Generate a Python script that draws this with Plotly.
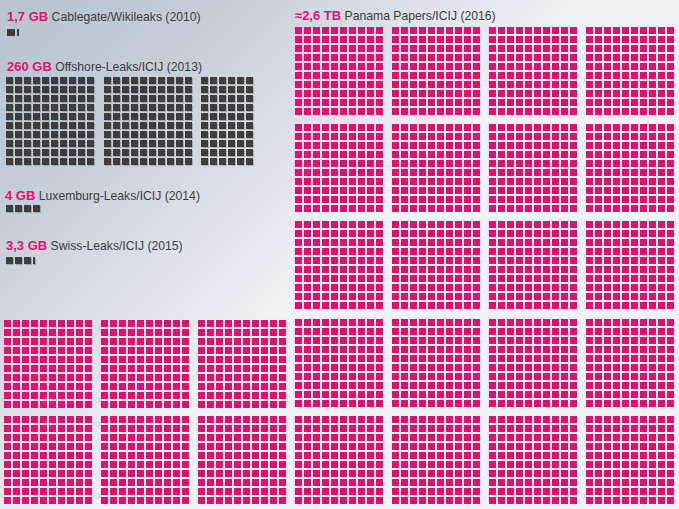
import math
import numpy as np
import plotly.graph_objects as go

# --- data (GB per leak; one cell = 1 GB, one block = 100 cells)
leak_names = ["Cablegate/Wikileaks (2010)", "Offshore-Leaks/ICIJ (2013)",
              "Luxemburg-Leaks/ICIJ (2014)", "Swiss-Leaks/ICIJ (2015)",
              "Panama Papers/ICIJ (2016)"]
size_labels = ["1,7 GB", "260 GB", "4 GB", "3,3 GB", "≈2,6 TB"]
leak_gb = [1.7, 260, 4, 3.3, 2600]

# --- layout (pixels)
W, H = 679, 509
PITCH, CELL = 9, 7.4
PINK, DARK, GREY = "#e0106c", "#3d3d3d", "rgba(70,75,80,0.3)"
origins = [
    [(7, 29)],
    [(6, 77), (104, 77), (201, 77)],
    [(6, 205)],
    [(6, 257)],
    [(x, y) for y in (27, 124, 221, 319, 416) for x in (295, 392, 489, 586)]
    + [(x, y) for y in (320, 416) for x in (4, 101, 198)],
]
label_pos = [(7, 16.4), (7, 66.4), (5, 195.4), (6, 245.4), (295, 15.4)]
# the small Cablegate mark is drawn a little differently in the reference
cablegate_x = [7, 16.6]
cablegate_w = [8.3, 2.4]


def cells(gb, blocks):
    xs, ys, ws = [], [], []
    for i in range(math.ceil(gb)):
        frac = min(1, gb - i)
        ox, oy = blocks[i // 100]
        n = i % 100
        col, row = (n // 10, n % 10) if gb > 10 else (n % 10, n // 10)
        xs.append(ox + col * PITCH)
        ys.append(oy + row * PITCH)
        ws.append(CELL * frac)
    return np.array(xs, float), np.array(ys, float), np.array(ws, float)


def bar(xs, ys, ws, color):
    return go.Bar(x=xs + ws / 2, y=[CELL] * len(xs), base=ys, width=ws,
                  marker=dict(color=color, line_width=0), hoverinfo="skip",
                  showlegend=False)


fig = go.Figure()

# background gradient
gx = np.linspace(-20, W + 20, 40)
gy = np.linspace(-20, H + 20, 40)
gz = np.array([[min(1, max(0, (x + 1.0 * y - 60) / 540)) for x in gx] for y in gy])
fig.add_trace(go.Heatmap(x=gx, y=gy, z=gz, zmin=0, zmax=1, zsmooth="best",
                         showscale=False, hoverinfo="skip",
                         colorscale=[[0, "#b9c6d0"], [0.35, "#c6d0d9"],
                                     [0.7, "#dfe3e9"], [1, "#f1f2f5"]]))

for k, (gb, blocks) in enumerate(zip(leak_gb, origins)):
    xs, ys, ws = cells(gb, blocks)
    if k == 0:
        xs, ws = np.array(cablegate_x, float), np.array(cablegate_w, float)
    if k == 4:
        fig.add_trace(bar(xs, ys, ws, PINK))
    else:
        if k != 0:
            fig.add_trace(bar(xs + 0.7, ys + 0.7, ws, GREY))
        fig.add_trace(bar(xs, ys, ws, DARK))

for (x, y), size, name in zip(label_pos, size_labels, leak_names):
    fig.add_annotation(x=x, y=y, xanchor="left", yanchor="middle", showarrow=False,
                       xref="x", yref="y", align="left",
                       text=f'<b><span style="color:#e5106f;font-size:13px">{size}</span></b> {name}',
                       font=dict(family="Liberation Sans", size=12.2, color="#3c3c3c"),
                       borderpad=0, borderwidth=0)

fig.update_layout(width=W, height=H, margin=dict(l=0, r=0, t=0, b=0), autosize=False,
                  barmode="overlay", bargap=0, plot_bgcolor="#e5e8ec", paper_bgcolor="#e5e8ec",
                  xaxis=dict(range=[0, W], visible=False, fixedrange=True),
                  yaxis=dict(range=[H, 0], visible=False, fixedrange=True))

fig.write_html("out.html", config=dict(displayModeBar=False),
               post_script="document.body.style.margin='0';")
